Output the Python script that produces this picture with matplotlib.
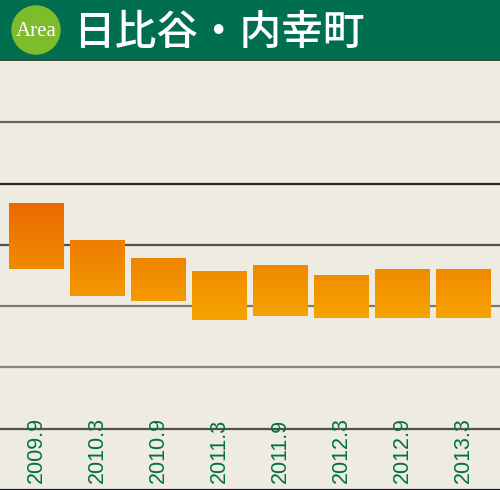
import numpy as np
import matplotlib
matplotlib.use("Agg")
import matplotlib.pyplot as plt
from matplotlib.patches import Circle, Rectangle
from matplotlib.colors import LinearSegmentedColormap

# data (grid units)
periods = ['2009.9', '2010.3', '2010.9', '2011.3', '2011.9', '2012.3', '2012.9', '2013.3']
low = [3.60, 3.16, 3.08, 2.77, 2.84, 2.80, 2.80, 2.80]
high = [4.68, 4.08, 3.78, 3.57, 3.67, 3.51, 3.60, 3.60]
title = '日比谷・内幸町'

BG = '#eeebe0'
GREEN = '#006f4f'

fig = plt.figure(figsize=(5, 4.9), dpi=100)
fig.patch.set_facecolor(BG)

# header band
head = fig.add_axes([0, 1 - 61 / 490, 1, 61 / 490])
head.set_xlim(0, 500)
head.set_ylim(61, 0)
head.axis('off')
head.add_patch(Rectangle((0, 0), 500, 60, color=GREEN))
head.add_patch(Rectangle((0, 59.5), 500, 1.8, color='#3d4a40'))
head.add_patch(Circle((36, 30), 24, color='#7dbd2b'))
head.text(36, 31, 'Area', color='white', fontsize=15, family='Liberation Serif',
          ha='center', va='center')
head.text(73, 32, title, color='white', fontsize=30, fontweight='medium',
          family=['Noto Sans CJK JP', 'DejaVu Sans'], ha='left', va='center')

# chart area
ax = fig.add_axes([0, 0, 1, (490 - 61) / 490])
ax.set_facecolor(BG)
for s in ax.spines.values():
    s.set_visible(False)
ax.set_xticks([])
ax.set_yticks([])

grid_cols = ['#1e1e1e', '#55514a', '#8a8478', '#7d786c', '#555048', '#2a2a2a', '#6a655a']
for k, c in enumerate(grid_cols):
    ax.axhline(k, color=c, lw=1.6, zorder=1)

cmap = LinearSegmentedColormap.from_list('og', ['#f6a600', '#eb6800'])
grad = np.linspace(2.7, 4.7, 256).reshape(-1, 1)
x = np.arange(len(periods))
bars = ax.bar(x, np.array(high) - np.array(low), bottom=low, width=0.9,
              color='none', edgecolor='none', zorder=2)
for b in bars:
    im = ax.imshow(grad, cmap=cmap, vmin=2.7, vmax=4.7, origin='lower',
                   extent=[-0.6, 7.6, 2.7, 4.7], aspect='auto', zorder=2)
    im.set_clip_path(b)
ax.set_xlim(-0.598, 7.598)
ax.set_ylim(0, 7.0)

for i, p in enumerate(periods):
    ax.text(i, 0.12, p, rotation=90, color='#00704a', fontsize=15.5,
            family='Liberation Sans', ha='center', va='bottom', zorder=3)

fig.savefig('out.png', dpi=100, facecolor=BG)
